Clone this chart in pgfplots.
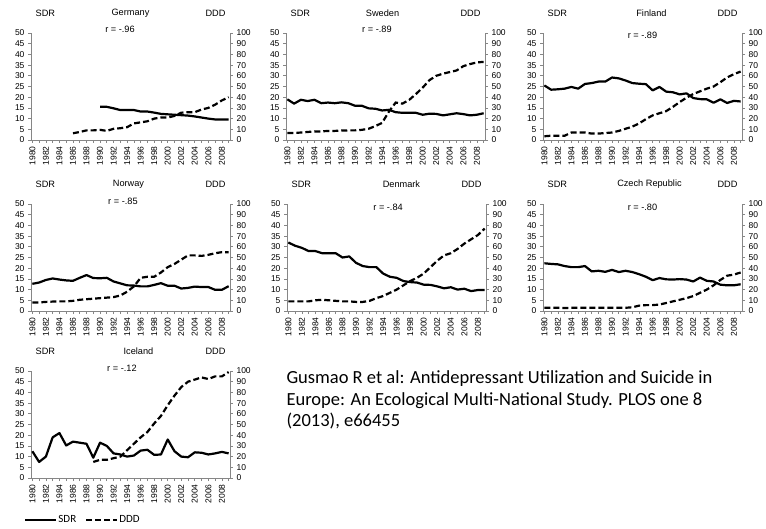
\documentclass[border=0pt]{standalone}
\usepackage{pgfplots}
\pgfplotsset{compat=1.18}
\usepackage{pgfplotstable}
\usepackage{fontspec}
\setmainfont{Liberation Sans}
\newfontfamily\calibri{Carlito}
\definecolor{axgray}{RGB}{134,134,134}

% year, suicide death rate (left axis), DDD (right axis)
\pgfplotstableread{
year sdr ddd
1986 nan 6.3
1987 nan 7.5
1988 nan 9
1989 nan 9
1990 15.5 9.5
1991 15.5 8.5
1992 14.8 10.5
1993 14.0 11
1994 14.0 12
1995 14.0 15.5
1996 13.3 16.5
1997 13.3 17.5
1998 12.8 20
1999 12.2 21
2000 12.0 21
2001 11.8 22.5
2002 11.6 25.5
2003 11.4 26
2004 11.0 26
2005 10.5 28.5
2006 10.0 30
2007 9.6 33
2008 9.6 37
2009 9.6 40
}\germany

\pgfplotstableread{
year sdr ddd
1980 19.0 6.5
1981 17.0 6.5
1982 18.8 7
1983 18.2 7.5
1984 18.8 8
1985 17.2 8
1986 17.5 8.5
1987 17.2 8.5
1988 17.6 8.8
1989 17.2 9
1990 16.0 9
1991 16.0 9.5
1992 14.8 10.5
1993 14.6 13
1994 13.8 16
1995 14.1 26.5
1996 13.0 35
1997 12.7 34
1998 12.7 37.5
1999 12.7 43
2000 11.8 49
2001 12.3 56
2002 12.2 60
2003 11.5 62
2004 12.0 63.5
2005 12.5 65
2006 12.1 69
2007 11.5 71
2008 11.8 72.5
2009 12.5 73
}\sweden

\pgfplotstableread{
year sdr ddd
1980 25.5 3.5
1981 23.5 4
1982 23.7 4
1983 24.0 4
1984 24.8 7
1985 24.0 7
1986 26.2 7
1987 26.6 6
1988 27.3 6
1989 27.3 6.5
1990 29.2 7
1991 28.8 8.5
1992 27.8 10.5
1993 26.6 12.5
1994 26.3 15.5
1995 26.1 19.5
1996 23.2 23
1997 24.8 25
1998 22.6 27
1999 22.3 31
2000 21.3 35.5
2001 21.8 39.5
2002 19.6 43
2003 19.1 45.5
2004 19.0 48
2005 17.4 50
2006 19.0 54
2007 17.3 58.5
2008 18.3 61.5
2009 18.0 64
}\finland

\pgfplotstableread{
year sdr ddd
1980 12.7 8
1981 13.3 8
1982 14.5 8.5
1983 15.2 8.8
1984 14.7 9
1985 14.3 9
1986 14.1 9.5
1987 15.5 10.5
1988 16.8 11
1989 15.4 11.5
1990 15.3 12
1991 15.5 12.5
1992 13.8 13
1993 12.9 14.5
1994 12.0 18
1995 11.9 23
1996 11.5 31
1997 11.5 32
1998 12.2 32
1999 13.0 36
2000 11.8 41
2001 11.8 44
2002 10.5 48
2003 10.8 52
2004 11.4 52
2005 11.2 51.5
2006 11.2 52.5
2007 9.9 54
2008 9.9 55
2009 11.6 55
}\norway

\pgfplotstableread{
year sdr ddd
1980 32.0 9
1981 30.5 9
1982 29.5 9
1983 28.0 9
1984 28.0 10
1985 27.0 10.5
1986 27.0 10
1987 27.0 9.5
1988 25.0 9
1989 25.5 9
1990 22.5 8.5
1991 21.0 8.5
1992 20.5 9.5
1993 20.5 12
1994 17.5 14
1995 16.0 17
1996 15.5 20
1997 14.0 24
1998 13.5 28
1999 13.3 31
2000 12.3 35
2001 12.2 41
2002 11.5 47
2003 10.6 52
2004 11.1 54
2005 10.0 58
2006 10.4 63
2007 9.3 67
2008 9.8 71
2009 9.8 77
}\denmark

\pgfplotstableread{
year sdr ddd
1980 22.3 3
1981 22.0 3
1982 21.8 3
1983 21.0 2.8
1984 20.5 3
1985 20.5 3
1986 21.0 3
1987 18.5 3
1988 18.8 3
1989 18.3 3
1990 19.2 3
1991 18.2 3
1992 18.8 3
1993 18.2 3.5
1994 17.2 5
1995 16.0 5.5
1996 14.4 5.5
1997 15.4 6
1998 14.8 7.5
1999 14.7 9
2000 14.9 10.5
2001 14.7 12
2002 13.8 14
2003 15.6 17
2004 14.1 20
2005 13.8 24
2006 12.3 29
2007 12.0 33
2008 12.0 34
2009 12.5 36
}\czech

\pgfplotstableread{
year sdr ddd
1980 12.5 nan
1981 7.5 nan
1982 10.0 nan
1983 19.0 nan
1984 21.0 nan
1985 15.2 nan
1986 17.0 nan
1987 16.5 nan
1988 16.0 nan
1989 9.5 15
1990 16.5 17
1991 15.0 17
1992 11.5 18.5
1993 11.0 20
1994 10.0 26
1995 10.5 32
1996 12.8 38
1997 13.2 43
1998 10.8 51
1999 11.0 58
2000 18.0 68
2001 12.5 77
2002 10.0 85
2003 9.7 90
2004 12.0 92
2005 11.8 94
2006 11.0 92.5
2007 11.5 95
2008 12.2 95
2009 11.5 99
}\iceland

\tikzset{
  sdrline/.style={black, line width=2.2pt, line join=round},
  dddline/.style={black, line width=2.2pt, dash pattern=on 6pt off 3pt},
  hd/.style={font=\fontsize{9.2}{11}\selectfont},
}

\pgfplotsset{
  panel/.style={
    width=199pt, height=107pt, scale only axis, anchor=north west,
    xmin=1979.8, xmax=2009.2, clip=false,
    axis line style={axgray, line width=0.7pt},
    tick style={axgray, line width=0.7pt},
    tick align=outside, major tick length=3pt, minor tick length=3pt,
    ticklabel style={font=\fontsize{8.5}{9}\selectfont, text=black},
    /pgf/number format/assume math mode=true,
    unbounded coords=jump,
  },
  sdrax/.style={
    panel, axis x line*=bottom, axis y line*=left,
    ymin=0, ymax=50, ytick={0,5,...,50},
    xtick={1980,1982,...,2008}, minor xtick={1981,1983,...,2009},
    xticklabels={1980,1982,1984,1986,1988,1990,1992,1994,1996,1998,2000,2002,2004,2006,2008},
    xticklabel style={rotate=90, anchor=east},
  },
  dddax/.style={
    panel, axis x line=none, axis y line*=right,
    ymin=0, ymax=100, ytick={0,10,...,100},
  },
}

% #1 left, #2 top, #3 name, #4 name x, #5 r, #6 r x, #7 r y, #8 table
\newcommand{\panel}[8]{%
  \begin{axis}[sdrax, at={(#1pt,-#2pt)}]
    \addplot[sdrline] table[x=year, y=sdr] {#8};
    \node[hd] at (rel axis cs:0.072,1.185) {SDR};
    \node[hd] at (rel axis cs:#4,1.185) {#3};
    \node[hd] at (rel axis cs:0.927,1.185) {DDD};
    \node[hd] at (rel axis cs:#6,#7) {r = #5};
  \end{axis}
  \begin{axis}[dddax, at={(#1pt,-#2pt)}]
    \addplot[dddline] table[x=year, y=ddd] {#8};
  \end{axis}%
}

\begin{document}
\begin{tikzpicture}
\path[use as bounding box] (0,0) rectangle (766pt,-528pt);

\panel{31}{33}{Germany}{0.5}{-.96}{0.447}{1.037}{\germany}
\panel{286}{33}{Sweden}{0.485}{-.89}{0.457}{1.037}{\sweden}
\panel{543}{33}{Finland}{0.545}{-.89}{0.5}{0.98}{\finland}
\panel{31}{204}{Norway}{0.49}{-.85}{0.462}{1.028}{\norway}
\panel{287}{204}{Denmark}{0.575}{-.84}{0.508}{0.972}{\denmark}
\panel{543}{204}{Czech Republic}{0.535}{-.80}{0.5}{0.972}{\czech}

\begin{axis}[sdrax, at={(31pt,-371pt)}]
  \addplot[sdrline] table[x=year, y=sdr] {\iceland};
  \node[hd] at (rel axis cs:0.072,1.185) {SDR};
  \node[hd] at (rel axis cs:0.54,1.185) {Iceland};
  \node[hd] at (rel axis cs:0.927,1.185) {DDD};
  \node[hd] at (rel axis cs:0.457,1.028) {r = -.12};
\end{axis}
\begin{axis}[dddax, at={(31pt,-371pt)},
  legend style={draw=none, fill=none, at={(axis description cs:-0.05,-0.39)}, anchor=west,
    font=\calibri\fontsize{11}{12}\selectfont, nodes={inner xsep=1pt},
    /tikz/every even column/.append style={column sep=8pt}},
  legend columns=2,
  legend image code/.code={\draw[#1] (0pt,0pt) -- (31pt,0pt);}]
  \addlegendimage{sdrline}
  \addlegendentry{SDR}
  \addplot[dddline] table[x=year, y=ddd] {\iceland};
  \addlegendentry{DDD}
\end{axis}

\node[anchor=base west, font=\calibri\fontsize{18.5}{22}\selectfont] at (283pt,-383pt)
  {Gusmao R et al: Antidepressant Utilization and Suicide in};
\node[anchor=base west, font=\calibri\fontsize{18.5}{22}\selectfont] at (283pt,-405pt)
  {Europe: An Ecological Multi-National Study. PLOS one 8};
\node[anchor=base west, font=\calibri\fontsize{18.5}{22}\selectfont] at (283pt,-426pt)
  {(2013), e66455};
\end{tikzpicture}
\end{document}
